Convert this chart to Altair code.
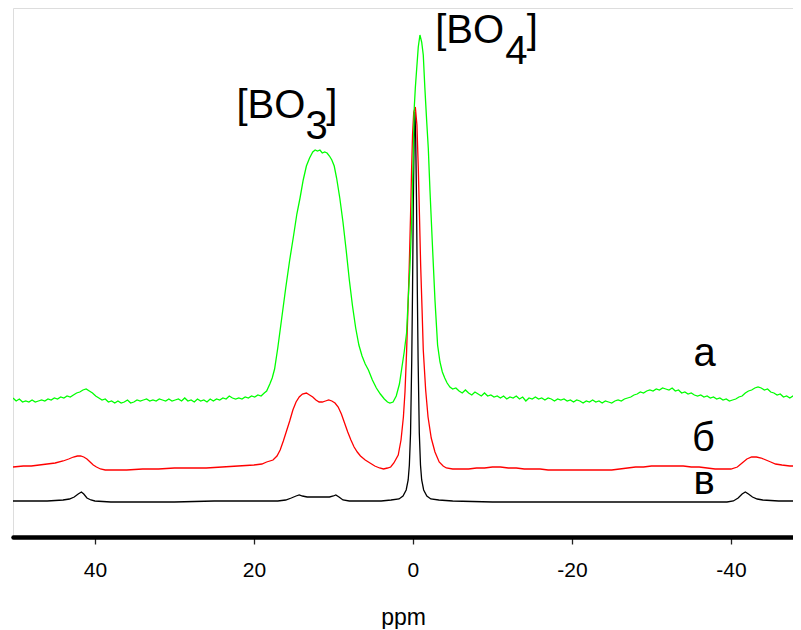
import altair as alt
import pandas as pd

# ---------------- data ----------------
green_ppm = [50.3, 49.9, 49.5, 49.1, 48.7, 48.3, 47.9, 47.5, 47.1, 46.7, 46.3, 45.9, 45.5, 45.1, 44.7, 44.3, 43.9, 43.5, 43.1, 42.7,
             42.3, 41.9, 41.5, 41.1, 40.7, 40.3, 39.9, 39.5, 39.1, 38.7, 38.3, 37.9, 37.5, 37.1, 36.7, 36.3, 35.9, 35.5, 35.1, 34.7,
             34.3, 33.9, 33.5, 33.1, 32.7, 32.3, 31.9, 31.5, 31.1, 30.7, 30.3, 29.9, 29.5, 29.1, 28.7, 28.3, 27.9, 27.5, 27.1, 26.7,
             26.3, 25.9, 25.5, 25.1, 24.7, 24.3, 23.9, 23.5, 23.1, 22.7, 22.3, 21.9, 21.5, 21.1, 20.7, 20.3, 19.9, 19.5, 19.1, 18.7,
             18.4, 18.0, 17.7, 17.4, 17.0, 16.5, 16.0, 15.5, 15.0, 14.6, 14.2, 13.8, 13.4, 13.0, 12.6, 12.3, 12.0, 11.7, 11.4, 11.1,
             10.8, 10.5, 10.2, 9.9, 9.6, 9.2, 8.8, 8.4, 8.0, 7.6, 7.2, 6.8, 6.4, 6.0, 5.6, 5.1, 4.6, 4.1, 3.6, 3.2,
             2.9, 2.5, 2.1, 1.7, 1.4, 1.1, 0.8, 0.6, 0.38, 0.2, 0.09, -0.05, -0.17, -0.3, -0.46, -0.67, -0.88, -1.1, -1.3, -1.5,
             -1.72, -1.93, -2.14, -2.45, -2.77, -3.1, -3.4, -3.7, -4.0, -4.3, -4.65, -5.0, -5.4, -5.8, -6.2, -6.6, -7.0, -7.4, -7.8, -8.2,
             -8.6, -9.0, -9.4, -9.8, -10.2, -10.6, -11.0, -11.4, -11.8, -12.2, -12.6, -13.0, -13.4, -13.8, -14.2, -14.6, -15.0, -15.4, -15.8, -16.2,
             -16.6, -17.0, -17.4, -17.8, -18.2, -18.6, -19.0, -19.4, -19.8, -20.2, -20.6, -21.0, -21.4, -21.8, -22.2, -22.6, -23.0, -23.4, -23.8, -24.2,
             -24.6, -25.0, -25.4, -25.8, -26.2, -26.6, -27.0, -27.4, -27.8, -28.2, -28.6, -29.0, -29.4, -29.8, -30.2, -30.6, -31.0, -31.4, -31.8, -32.2,
             -32.6, -33.0, -33.4, -33.8, -34.2, -34.6, -35.0, -35.4, -35.8, -36.2, -36.6, -37.0, -37.4, -37.8, -38.2, -38.6, -39.0, -39.4, -39.8, -40.2,
             -40.6, -41.0, -41.4, -41.8, -42.2, -42.6, -43.0, -43.4, -43.8, -44.2, -44.6, -45.0, -45.4, -45.8, -46.2, -46.6, -47.0, -47.4, -47.8, -48.2,
             -48.7]
green_int = [139, 136, 138, 135, 136, 135, 137, 135, 136, 137, 136, 138, 137, 139, 138, 140, 139, 141, 140, 142,
             144, 145, 147, 148, 146, 144, 141, 139, 137, 138, 135, 136, 134, 136, 134, 135, 137, 134, 135, 137,
             136, 137, 138, 136, 137, 136, 138, 137, 136, 138, 136, 137, 138, 136, 139, 136, 137, 135, 138, 136,
             137, 135, 138, 136, 138, 137, 139, 138, 141, 139, 138, 139, 138, 140, 139, 141, 140, 142, 141, 144,
             146, 153, 159, 168, 189, 219, 249, 277, 302, 323, 339, 357, 371, 379, 385, 387, 386, 387, 384, 385,
             384, 381, 377, 371, 359, 339, 315, 287, 257, 231, 209, 192, 181, 173, 167, 157, 149, 143, 138, 135,
             134, 135, 141, 153, 169, 185, 204, 237, 270, 307, 337, 387, 430, 449, 467, 490, 502, 495, 482, 449,
             417, 389, 347, 292, 237, 192, 175, 165, 159, 154, 150, 148, 149, 146, 144, 147, 144, 142, 145, 143,
             141, 144, 141, 142, 140, 141, 139, 141, 138, 140, 139, 141, 138, 140, 136, 139, 138, 140, 138, 139,
             137, 139, 138, 136, 138, 137, 138, 136, 137, 135, 137, 136, 134, 136, 135, 137, 135, 136, 134, 136,
             135, 134, 136, 137, 136, 138, 139, 140, 142, 143, 145, 144, 146, 147, 146, 148, 147, 149, 148, 147,
             149, 146, 147, 144, 145, 143, 144, 142, 141, 142, 140, 141, 139, 140, 138, 139, 137, 138, 136, 137,
             138, 140, 141, 144, 146, 147, 149, 150, 149, 147, 148, 145, 144, 142, 143, 140, 141, 139, 141, 140,
             141]

red_ppm = [50.3, 49, 48, 47, 46, 45, 44, 43.3, 42.7, 42.2, 41.8, 41.4, 41.0, 40.6, 40.2, 39.8, 39.3, 38.7, 38, 36,
           34, 32, 30, 28, 26, 24, 22, 20, 19, 18.4, 17.6, 17.1, 16.7, 16.3, 15.9, 15.5, 15.1, 14.7, 14.3, 13.9,
           13.4, 13.0, 12.6, 12.2, 11.8, 11.4, 11.0, 10.6, 10.2, 9.8, 9.4, 9.0, 8.6, 8.2, 7.8, 7.4, 7.0, 6.6, 6.0, 5.4,
           4.8, 4.2, 3.7, 3.2, 2.8, 2.4, 1.85, 1.5, 1.2, 1.0, 0.8, 0.6, 0.47, 0.3, 0.17, 0.05, -0.1, -0.3, -0.5, -0.67,
           -0.82, -0.97, -1.15, -1.3, -1.6, -1.9, -2.3, -2.77, -3.3, -3.8, -4.2, -5, -6, -7, -8, -9, -10, -11, -12, -13,
           -14, -15, -16, -17, -18, -20, -22, -24, -25, -26, -27, -28, -29, -30, -32, -34, -35, -36, -37, -38,
           -39, -40, -40.8, -41.4, -42, -42.6, -43.2, -43.8, -44.4, -45, -45.6, -46.4, -47.4, -48.7]
red_int = [70, 71, 71, 72, 73, 74, 76, 78, 80, 81, 81, 80, 78, 75, 72, 70, 68, 67, 67, 67,
           68, 68, 69, 69, 69, 70, 71, 72, 73, 75, 77, 81, 87, 96, 106, 116, 127, 135, 140, 143,
           144, 142, 140, 137, 135, 135, 136, 137, 136, 134, 130, 123, 114, 105, 97, 90, 85, 81, 77, 74,
           71, 69, 68, 69, 70, 74, 82, 97, 120, 145, 185, 235, 269, 322, 367, 402, 425, 430, 412, 370,
           322, 272, 227, 187, 147, 120, 99, 85, 75, 71, 69, 68, 68, 68, 69, 69, 70, 70, 69, 69,
           68, 68, 68, 67, 67, 67, 67, 67, 67, 68, 69, 70, 70, 71, 71, 71, 70, 70, 69, 68,
           68, 68, 70, 74, 78, 80, 80, 79, 77, 75, 73, 72, 71, 71]

black_ppm = [50.3, 48, 46, 44, 43.2, 42.6, 42.1, 41.7, 41.4, 41.0, 40.5, 40, 38, 35, 30, 25, 20, 17, 16, 15.3,
             14.7, 14.3, 13.9, 13.3, 12.5, 11.5, 10.5, 10.0, 9.7, 9.3, 8.8, 8, 6, 4, 2.75, 1.75, 1.25, 0.85, 0.6, 0.45,
             0.3, 0.15, 0.05, -0.05, -0.15, -0.25, -0.35, -0.45, -0.55, -0.65, -0.8, -0.95, -1.1, -1.35, -1.75, -2.25, -3.25, -5, -10, -15,
             -20, -25, -30, -35, -39.5, -40.3, -40.9, -41.4, -41.8, -42.2, -42.7, -43.3, -44, -46, -48.7]
black_int = [36, 36, 36, 37, 38, 40, 43, 45, 43, 39, 37, 36, 35, 35, 35, 36, 36, 36, 37, 39,
             41, 42, 41, 40, 40, 40, 40, 41, 42, 40, 37, 36, 36, 36, 37, 38, 41, 47, 57, 72,
             104, 177, 247, 337, 397, 425, 397, 337, 247, 177, 104, 72, 57, 47, 41, 38, 37, 36, 35, 35,
             35, 35, 35, 35, 35, 36, 39, 43, 45, 43, 40, 38, 37, 36, 36]

label_text = ["[BO", "3", "]", "[BO", "4", "]", "а", "б", "в"]
label_ppm = [22.2, 13.5, 10.9, -2.8, -11.6, -14.3, -35.3, -35.1, -35.3]
label_int = [419, 398, 419, 494, 473, 494, 171, 86, 43]

x_ticks = [40, 20, 0, -20, -40]

FONT = "Liberation Sans"

green = pd.DataFrame({"ppm": green_ppm, "v": green_int})
red = pd.DataFrame({"ppm": red_ppm, "v": red_int})
black = pd.DataFrame({"ppm": black_ppm, "v": black_int})
labels = pd.DataFrame({"t": label_text, "ppm": label_ppm, "v": label_int})

xscale = alt.Scale(domain=[50.3, -47.8], nice=False, zero=False)
yscale = alt.Scale(domain=[0, 529], nice=False, zero=False)

xaxis = alt.Axis(values=x_ticks, title="ppm", grid=False,
                 labelExpr="datum.value < 0 ? '-' + abs(datum.value) : '' + datum.value",
                 domainWidth=4.5, domainColor="black", domainCap="round",
                 tickColor="#222", tickWidth=1.3, tickSize=7,
                 labelFont=FONT, labelFontSize=21, labelColor="black", labelPadding=15,
                 titleFont=FONT, titleFontSize=23, titleFontWeight="normal", titleColor="black",
                 titlePadding=26)


def spec_line(df, color):
    return alt.Chart(df).mark_line(color=color, strokeWidth=1.3, clip=True).encode(
        x=alt.X("ppm:Q", scale=xscale, axis=xaxis),
        y=alt.Y("v:Q", scale=yscale, axis=None),
        order="ppm_order:Q",
    ).transform_window(ppm_order="row_number()")


text = alt.Chart(labels).mark_text(font=FONT, fontSize=40, align="left", baseline="alphabetic",
                                   color="black").encode(
    x=alt.X("ppm:Q", scale=xscale, axis=xaxis),
    y=alt.Y("v:Q", scale=yscale, axis=None),
    text="t:N",
)

chart = alt.layer(
    spec_line(black, "black"),
    spec_line(red, "#ff0000"),
    spec_line(green, "#00ff00"),
    text,
).properties(
    width=780, height=529,
    autosize=alt.AutoSizeParams(type="none"),
    padding={"left": 5, "top": 0, "right": 0, "bottom": 92},
).configure_view(stroke=None).configure(background="white")

chart.save("out.html", embed_options={"renderer": "svg", "actions": False})
